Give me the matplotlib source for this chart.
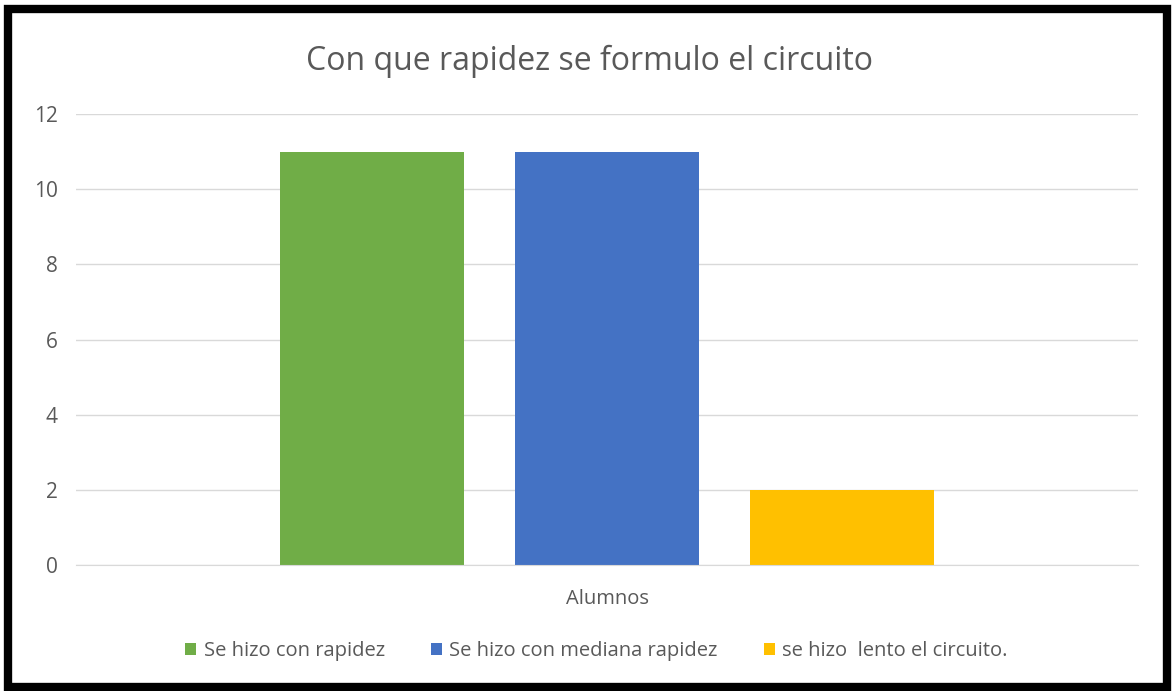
import matplotlib.pyplot as plt
from matplotlib.patches import Rectangle

# datos
category = "Alumnos"
series = ["Se hizo con rapidez", "Se hizo con mediana rapidez", "se hizo  lento el circuito."]
values = [11, 11, 2]
colors = ["#70AD47", "#4472C4", "#FFC000"]
yticks = [0, 2, 4, 6, 8, 10, 12]

plt.rcParams['font.family'] = ['Open Sans', 'DejaVu Sans']

fig = plt.figure(figsize=(11.75, 6.91), dpi=100)
ax = fig.add_axes([0.0647, 0.1823, 0.9038, 0.6527])

bar_w = 0.1733
offsets = [-0.2213, 0.0, 0.2213]
for name, v, c, off in zip(series, values, colors, offsets):
    ax.bar(off, v, width=bar_w, color=c, label=name, zorder=2)

ax.set_xlim(-0.5, 0.5)
ax.set_ylim(0, 12)
ax.set_yticks(yticks)
ax.set_xticks([0])
ax.set_xticklabels([category])
ax.tick_params(axis='y', length=0, pad=13, labelsize=15, labelcolor='#595959')
ax.tick_params(axis='x', length=0, pad=17, labelsize=14.5, labelcolor='#595959')
ax.grid(axis='y', color='#D9D9D9', linewidth=1, zorder=0)
for s in ['top', 'right', 'left']:
    ax.spines[s].set_visible(False)
ax.spines['bottom'].set_color('#D9D9D9')

fig.text(0.502, 0.911, "Con que rapidez se formulo el circuito", ha='center', va='center',
         fontsize=23, color='#595959')

ax.legend(loc='center', bbox_to_anchor=(0.49, -0.19), ncol=3, frameon=False,
          fontsize=14.5, labelcolor='#595959', handlelength=0.55, handleheight=0.55,
          handletextpad=0.35, columnspacing=2.3)

# marco negro
fig.patches.append(Rectangle((0.0068, 0.0054), 0.9864, 0.9819, transform=fig.transFigure,
                             fill=False, edgecolor='black', linewidth=6))

fig.savefig("out.png", dpi=100)
